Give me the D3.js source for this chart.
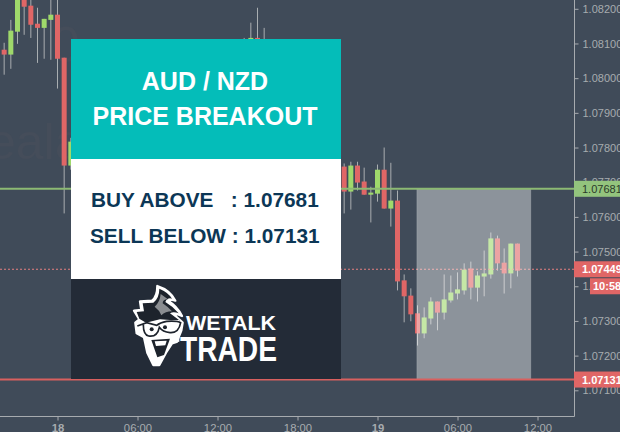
<!DOCTYPE html>
<html><head><meta charset="utf-8">
<script src="https://cdn.jsdelivr.net/npm/d3@7"></script>
<style>html,body{margin:0;padding:0;background:#404b59;overflow:hidden}svg{display:block}text{font-family:"Liberation Sans",Arial,sans-serif}</style>
</head><body><div id="c"></div>
<script>
const slots =[-8,-7,-6,-5,-4,-3,-2,-1,0,1,2,28,29,30,31,43,44,45,46,47,48,49,50,51,52,53,54,55,56,57,58,59,60,61,62,63,64,65,66,67,68,69];
const opens =[1.08082,1.08068,1.08134,1.08237,1.08209,1.08157,1.08145,1.08168,1.08183,1.08059,1.07748,1.08096,1.08099,1.08116,1.08105,1.07745,1.07673,1.07748,1.07702,1.07664,1.07667,1.07736,1.07624,1.07647,1.07417,1.07373,1.07322,1.07264,1.07307,1.07356,1.07324,1.07359,1.07379,1.07388,1.07451,1.07396,1.07428,1.07434,1.07538,1.07468,1.07437,1.07523];
const highs =[1.08102,1.08168,1.08269,1.08255,1.08240,1.08203,1.08171,1.08240,1.08240,1.08059,1.07828,1.08116,1.08160,1.08203,1.08145,1.07754,1.07759,1.07759,1.07742,1.07687,1.07751,1.07800,1.07756,1.07676,1.07434,1.07394,1.07345,1.07339,1.07368,1.07356,1.07434,1.07431,1.07440,1.07466,1.07471,1.07443,1.07503,1.07555,1.07546,1.07509,1.07523,1.07523];
const lows  =[1.08010,1.08027,1.08099,1.08125,1.08116,1.08044,1.08056,1.08053,1.07970,1.07610,1.07736,1.08053,1.08053,1.08047,1.08053,1.07610,1.07621,1.07676,1.07664,1.07584,1.07644,1.07624,1.07572,1.07388,1.07296,1.07299,1.07229,1.07250,1.07290,1.07273,1.07304,1.07353,1.07362,1.07376,1.07362,1.07356,1.07371,1.07422,1.07445,1.07379,1.07394,1.07428];
const closes=[1.08068,1.08137,1.08235,1.08206,1.08154,1.08145,1.08171,1.08183,1.08056,1.07748,1.07817,1.08111,1.08116,1.08082,1.08082,1.07673,1.07748,1.07699,1.07664,1.07670,1.07736,1.07624,1.07647,1.07414,1.07371,1.07319,1.07264,1.07310,1.07356,1.07324,1.07362,1.07382,1.07391,1.07448,1.07396,1.07431,1.07437,1.07538,1.07466,1.07437,1.07523,1.07445];
const priceTicks=[1.082,1.081,1.080,1.079,1.078,1.077,1.076,1.075,1.074,1.073,1.072,1.071];
const timeTicks=[0,12,24,36,48,60,72];
const timeLabels=["18","06:00","12:00","18:00","19","06:00","12:00"];
const buyLevel=1.07681, sellLevel=1.07131, lastPrice=1.07449, shadeSlots=[53.9,71];
const timer="10:58";
const titleLines=["AUD / NZD","PRICE BREAKOUT"];
const levelLines=["BUY ABOVE   : 1.07681","SELL BELOW : 1.07131"];

const W=620,H=432,axisX=574,axisY=416;
const svg=d3.select("#c").append("svg").attr("width",W).attr("height",H);
const x=d3.scaleLinear().domain([0,48]).range([57.5,377.5]);
const y=d3.scaleLinear().domain([1.082,1.071]).range([8.8,390.3]);
svg.append("rect").attr("width",W).attr("height",H).attr("fill","#404b59");

// watermark
svg.append("text").attr("x",-12).attr("y",159).attr("font-size",50).attr("fill","#4a4f5b").attr("opacity",.5).text("ealal");
svg.append("text").attr("x",52).attr("y",62).attr("font-size",50).attr("fill","#4a4f5b").attr("opacity",.5).text("0");

const data=slots.map((s,i)=>({s,o:opens[i],h:highs[i],l:lows[i],c:closes[i]}));
const g=svg.append("g");
g.selectAll("line").data(data).join("line")
 .attr("x1",d=>x(d.s)).attr("x2",d=>x(d.s)).attr("y1",d=>y(d.h)).attr("y2",d=>y(d.l))
 .attr("stroke","#a9aeb1").attr("stroke-width",1);
g.selectAll("rect").data(data).join("rect")
 .attr("x",d=>x(d.s)-2.5).attr("width",5)
 .attr("y",d=>y(Math.max(d.o,d.c))).attr("height",d=>Math.max(1.5,Math.abs(y(d.o)-y(d.c))))
 .attr("fill",d=>d.c>=d.o?"#9fd96b":"#e06666");

// last price dashed
svg.append("line").attr("x1",0).attr("x2",axisX).attr("y1",y(lastPrice)).attr("y2",y(lastPrice))
 .attr("stroke","#e58080").attr("stroke-width",1).attr("stroke-dasharray","2 2");
// shaded box
svg.append("rect").attr("x",x(shadeSlots[0])).attr("width",x(shadeSlots[1])-x(shadeSlots[0]))
 .attr("y",y(buyLevel)).attr("height",y(sellLevel)-y(buyLevel))
 .attr("fill","#fff").attr("fill-opacity",.4).attr("stroke","#fff").attr("stroke-opacity",.15);
// levels
[[buyLevel,"#8cb973"],[sellLevel,"#d9605f"]].forEach(([v,c])=>{
 svg.append("line").attr("x1",0).attr("x2",axisX).attr("y1",y(v)).attr("y2",y(v)).attr("stroke",c).attr("stroke-width",2);
});

// axes
const axisColor="#a7abaf";
const ay=svg.append("g").attr("transform",`translate(${axisX+.5},0)`)
 .call(d3.axisRight(y).tickValues(priceTicks).tickSize(4).tickPadding(4).tickFormat(d3.format(".5f")));
const ax=svg.append("g").attr("transform",`translate(0,${axisY+.5})`)
 .call(d3.axisBottom(x).tickValues(timeTicks).tickSize(4).tickPadding(3).tickFormat((d,i)=>timeLabels[i]));
[ay,ax].forEach(a=>{a.selectAll("path").remove();a.selectAll("line").attr("stroke",axisColor);
 a.selectAll("text").attr("fill",axisColor).attr("font-size",11).attr("font-family",'"Liberation Sans",Arial,sans-serif');});
ax.selectAll("text").attr("font-size",11.3).attr("font-weight",(d,i)=>timeLabels[i].length<3?"bold":"normal");
svg.append("line").attr("x1",0).attr("x2",axisX+.5).attr("y1",axisY+.5).attr("y2",axisY+.5).attr("stroke",axisColor);
svg.append("line").attr("x1",axisX+.5).attr("x2",axisX+.5).attr("y1",0).attr("y2",axisY+.5).attr("stroke",axisColor);

// price tags
function tag(v,bx,label,bg,fg,bold,yv){
 const cy=yv===undefined?y(v):yv;
 svg.append("rect").attr("x",bx).attr("y",cy-8).attr("width",W-bx).attr("height",16).attr("fill",bg);
 svg.append("text").attr("x",bx===axisX?582:bx+3).attr("y",cy+4).attr("font-size",11).attr("font-weight",bold?"bold":"normal").attr("fill",fg).text(label);
}
const f5=d3.format(".5f");
tag(buyLevel,axisX,f5(buyLevel),"#93c47d","#2b3a2a",false);
tag(lastPrice,axisX,f5(lastPrice),"#e06666","#fff",true);
tag(lastPrice,590,timer,"#e06666","#fff",true,y(lastPrice)+17);
tag(sellLevel,axisX,f5(sellLevel),"#e06666","#fff",true);

// panels
const P={x:71,w:270};
svg.append("rect").attr("x",P.x).attr("y",39).attr("width",P.w).attr("height",120).attr("fill","#04bdb9");
svg.append("rect").attr("x",P.x).attr("y",159).attr("width",P.w).attr("height",120).attr("fill","#fff");
svg.append("rect").attr("x",P.x).attr("y",279).attr("width",P.w).attr("height",100).attr("fill","#232b37");
const fontTitle='Roboto,"Liberation Sans",sans-serif';
titleLines.forEach((t,i)=>svg.append("text").attr("x",205).attr("y",[89.5,125][i]).attr("text-anchor","middle")
 .attr("font-family",fontTitle).attr("font-weight",700).attr("font-size",25).attr("fill","#fff").text(t));
levelLines.forEach((t,i)=>svg.append("text").attr("x",[91,90][i]).attr("y",[207,243][i])
 .style("white-space","pre").attr("font-family",fontTitle).attr("font-weight",700).attr("font-size",20.8).attr("fill","#0c3756").text(t));

// logo
const L=svg.append("g").attr("transform","translate(120,280) scale(.3333)");
L.append("path").attr("fill","#fff").attr("stroke","#fff").attr("stroke-width",7).attr("stroke-linejoin","round")
 .attr("d","M112 18 Q150 30 166 62 Q152 56 146 64 Q170 78 186 108 Q170 100 160 102 L188 128 L184 152 L170 186 L156 190 L138 218 L118 255 L100 255 L82 218 L72 172 L50 160 L46 128 L58 118 L42 92 L64 90 L60 64 L96 62 Q112 50 112 18 Z");
L.append("path").attr("fill","#1d232c").attr("d","M118 26 Q146 38 156 56 Q142 52 136 66 Q160 80 176 100 Q160 94 150 100 L180 122 L120 118 L78 128 L58 116 L50 96 L72 94 L68 70 L100 68 Q118 54 118 26 Z");
L.append("path").attr("fill","#8a8d91").attr("d","M122 42 Q136 52 144 58 Q128 58 128 70 Q146 82 156 94 Q136 94 124 106 Q118 90 104 80 Q120 66 122 42 Z");
L.append("path").attr("fill","#fff").attr("d","M60 128 L178 120 L178 185 L150 190 L128 235 L112 245 L95 215 L82 170 L62 160 Z");
L.append("path").attr("fill","none").attr("stroke","#1d232c").attr("stroke-width",5).attr("d","M52 138 L80 128 L110 136 Q120 128 140 124 Q172 122 182 128 Q176 160 150 158 Q128 156 118 142 Q112 172 86 168 Q70 164 70 134");
L.append("circle").attr("cx",95).attr("cy",148).attr("r",6).attr("fill","#1d232c");
L.append("circle").attr("cx",135).attr("cy",142).attr("r",6).attr("fill","#1d232c");
L.append("path").attr("fill","#1d232c").attr("d","M94 180 L150 176 L132 225 L112 232 Z");
L.append("path").attr("fill","#fff").attr("d","M104 184 L140 182 L136 196 L108 198 Z");
svg.append("text").attr("x",186).attr("y",330).attr("font-size",21).attr("font-weight","bold").attr("fill","#fff").attr("textLength",90).attr("lengthAdjust","spacingAndGlyphs").text("WETALK");
svg.append("text").attr("x",180).attr("y",361).attr("font-size",35).attr("font-weight","bold").attr("fill","#fff").attr("textLength",97).attr("lengthAdjust","spacingAndGlyphs").text("TRADE");
</script></body></html>
